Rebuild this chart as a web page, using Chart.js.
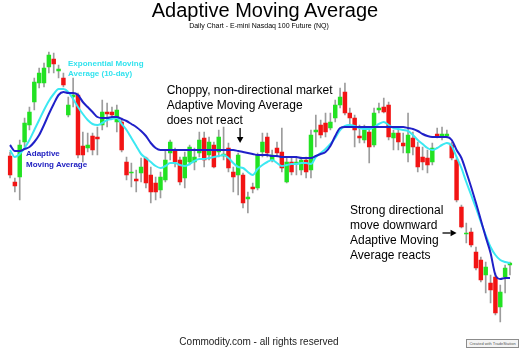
<!DOCTYPE html>
<html>
<head>
<meta charset="utf-8">
<script src="https://cdn.jsdelivr.net/npm/chart.js@4/dist/chart.umd.min.js"></script>
<style>
  html, body { margin: 0; padding: 0; background: #fff; }
  #wrap { position: relative; width: 520px; height: 350px; overflow: hidden; background: #fff; }
  #c { position: absolute; left: 0; top: 0; }
  .txt { position: absolute; white-space: nowrap; font-family: "Liberation Sans", Arial, sans-serif; color: #000; }
  .center { transform: translateX(-50%); text-align: center; }
</style>
</head>
<body>
<div id="wrap">
  <canvas id="c" width="520" height="350"></canvas>
  <div class="txt center" style="left:265px;top:0px;font-size:20px;line-height:20px;">Adaptive Moving Average</div>
  <div class="txt center" style="left:259px;top:21.5px;font-size:7px;line-height:7px;">Daily Chart - E-mini Nasdaq 100 Future (NQ)</div>
  <div class="txt" style="left:68px;top:59px;font-size:8px;line-height:10px;font-weight:bold;color:#33e3ee;">Exponential Moving<br>Average (10-day)</div>
  <div class="txt" style="left:26px;top:149.3px;font-size:8px;line-height:10.5px;font-weight:bold;color:#2222c2;">Adaptive<br>Moving Average</div>
  <div class="txt" style="left:166.7px;top:82.6px;font-size:12px;line-height:15px;">Choppy, non-directional market<br>Adaptive Moving Average<br>does not react</div>
  <div class="txt" style="left:350px;top:203.3px;font-size:12px;line-height:15px;">Strong directional<br>move downward<br>Adaptive Moving<br>Average reacts</div>
  <div class="txt center" style="left:259px;top:336.5px;font-size:10px;line-height:10px;color:#222;">Commodity.com - all rights reserved</div>
  <div class="txt" style="left:466px;top:339px;width:51px;height:7px;border:1px solid #8c8c8c;background:#f4f4f4;font-size:4px;line-height:7px;text-align:center;color:#555;">Created with TradeStation</div>
</div>
<script>
// Daily E-mini Nasdaq 100 sessions (index points, oldest first)
const open = [194,168,173,208,225,248,267,267,283,291,
  279,272,235,253,255,204,202,214,213,225,
  238,238,228,228,188,177,171,177,192,175,
  167,160,170,197,200,190,172,188,188,197,
  212,195,205,198,194,202,178,175,175,151,
  163,162,198,213,190,202,198,168,188,186,
  180,190,180,218,225,227,222,232,245,258,
  237,232,214,210,218,205,240,243,245,212,
  217,207,197,212,203,193,192,188,216,214,
  214,205,190,143,116,118,98,90,75,67,
  73,43,73,85];
const high = [198,172,210,232,243,272,282,287,298,297,
  285,277,253,272,257,218,217,217,223,250,
  247,243,245,232,193,187,180,192,193,183,
  173,178,200,210,202,193,198,205,202,218,
  218,213,208,220,223,207,183,197,177,158,
  167,197,217,217,200,208,222,193,193,193,
  193,193,220,235,230,237,237,250,262,267,
  242,235,225,225,222,242,247,252,248,220,
  222,217,237,218,208,203,200,207,222,223,
  220,208,192,145,127,122,103,93,88,75,
  77,65,85,88];
const low = [172,158,150,203,220,240,262,263,277,277,
  272,263,233,243,192,188,198,195,195,220,
  223,233,218,198,170,163,158,168,162,147,
  150,152,168,190,183,165,162,185,180,193,
  183,190,182,193,190,178,158,155,142,137,
  157,160,193,193,188,193,178,167,175,175,
  175,172,172,203,212,213,220,228,242,235,
  223,203,207,207,187,203,237,237,210,200,
  200,197,188,195,178,180,177,185,212,210,
  212,190,148,122,107,103,80,68,57,47,
  35,28,57,75];
const close = [175,164,205,227,238,268,277,282,295,286,
  281,265,245,255,195,195,205,200,211,238,
  236,235,240,200,175,178,169,183,167,158,
  158,173,190,208,188,168,193,203,193,210,
  190,208,183,213,196,182,173,195,147,153,
  161,195,208,197,195,197,182,188,178,188,
  190,178,215,220,215,218,228,245,253,237,
  232,220,212,220,203,237,242,238,213,217,
  208,204,215,203,183,188,185,202,214,216,
  216,192,150,123,117,105,82,70,83,60,
  37,58,82,87];

// Adaptive Moving Average
const ama = [205,199,199,201,203,208,215,225,236,246,
  255,258,257,257,255,248,243,238,233,232,
  232,233,233,231,229,226,223,219,214,207,
  202,200,200,200,200,200,200,200,200,200,
  200,200,200,200,200,200,200,199,198,197,
  196,195,195,195,194,194,193,193,193,193,
  192,192,192,194,196,198,204,214,222,223,
  223,223,223,223,223,223,223,223,223,223,
  223,223,222,221,219,216,214,213,213,213,
  213,210,200,192,178,163,147,130,113,97,
  75,71,72,72];

// Exponential Moving Average (10-day)
const ema = [200,193,196,202,210,220,230,240,249,256,
  261,261,258,251,243,236,230,226,225,227,
  230,231,232,226,220,212,204,196,192,188,
  184,182,184,187,187,185,184,186,189,191,
  191,192,193,194,195,192,187,183,182,178,
  175,181,185,188,190,187,184,185,186,186,
  187,187,186,193,197,201,206,212,220,224,
  225,224,222,221,221,223,226,228,225,222,
  221,220,219,215,210,206,202,200,202,205,
  207,204,193,182,168,155,142,128,115,103,
  95,90,88,87];

const sessions = open.map((_, i) => 'Day ' + (i + 1));

const UP = '#22e222';
const DOWN = '#f21414';
const WICK = '#9c9c9c';

const wicks = low.map((l, i) => [l, high[i]]);
const bodies = open.map((o, i) => [o, close[i]]);
const bodyColors = open.map((o, i) => (close[i] >= o ? UP : DOWN));

// callout arrows, anchored in session index / price units
const callouts = [
  { from: [47.4, 222], to: [47.4, 207] },
  { from: [89.1, 117], to: [92.0, 117] }
];

const arrowPlugin = {
  id: 'calloutArrows',
  afterDatasetsDraw(chart) {
    const { ctx, scales } = chart;
    ctx.save();
    ctx.strokeStyle = '#000';
    ctx.fillStyle = '#000';
    ctx.lineWidth = 1.3;
    callouts.forEach(a => {
      const x1 = scales.x.getPixelForValue(a.from[0]);
      const y1 = scales.y.getPixelForValue(a.from[1]);
      const x2 = scales.x.getPixelForValue(a.to[0]);
      const y2 = scales.y.getPixelForValue(a.to[1]);
      const ang = Math.atan2(y2 - y1, x2 - x1);
      const head = 6, half = 3.3;
      const bx = x2 - head * Math.cos(ang), by = y2 - head * Math.sin(ang);
      ctx.beginPath();
      ctx.moveTo(x1, y1);
      ctx.lineTo(bx, by);
      ctx.stroke();
      ctx.beginPath();
      ctx.moveTo(x2, y2);
      ctx.lineTo(bx - half * Math.sin(ang), by + half * Math.cos(ang));
      ctx.lineTo(bx + half * Math.sin(ang), by - half * Math.cos(ang));
      ctx.closePath();
      ctx.fill();
    });
    ctx.restore();
  }
};

new Chart(document.getElementById('c'), {
  type: 'bar',
  data: {
    labels: sessions,
    datasets: [
      {
        type: 'line', label: 'Adaptive Moving Average', data: ama,
        borderColor: '#2020c8', borderWidth: 2, pointRadius: 0,
        cubicInterpolationMode: 'monotone', order: 0
      },
      {
        type: 'line', label: 'Exponential Moving Average (10-day)', data: ema,
        borderColor: '#3ce8f2', borderWidth: 2, pointRadius: 0,
        cubicInterpolationMode: 'monotone', order: 1
      },
      {
        label: 'Body', data: bodies, backgroundColor: bodyColors,
        barThickness: 3.8, grouped: false, minBarLength: 1, order: 2
      },
      {
        label: 'Range', data: wicks, backgroundColor: WICK,
        barThickness: 1, grouped: false, order: 3
      }
    ]
  },
  options: {
    responsive: false,
    animation: false,
    devicePixelRatio: 1,
    layout: { padding: { left: 7.6, right: 7.6, top: 0, bottom: 0 } },
    plugins: { legend: { display: false }, tooltip: { enabled: false } },
    scales: {
      x: { display: false, offset: true },
      y: { display: false, min: 0, max: 350 }
    }
  },
  plugins: [arrowPlugin]
});
</script>
</body>
</html>
